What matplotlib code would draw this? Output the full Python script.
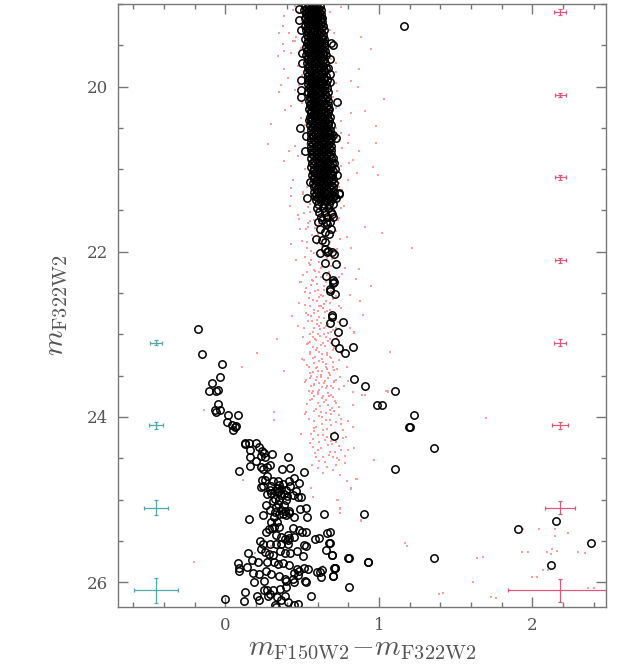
import matplotlib
matplotlib.use("Agg")
import matplotlib.pyplot as plt
from matplotlib.ticker import MultipleLocator

plt.rcParams['mathtext.fontset'] = 'cm'

# upper main sequence ridge: one row of colours per magnitude
ridge_mag = [19.02, 19.07, 19.12, 19.17, 19.22, 19.27, 19.32, 19.37, 19.42, 19.47,
             19.52, 19.57, 19.62, 19.67, 19.72, 19.77, 19.82, 19.87, 19.92, 19.97,
             20.02, 20.07, 20.12, 20.17, 20.22, 20.27, 20.32, 20.37, 20.42, 20.47,
             20.52, 20.57, 20.62, 20.67, 20.72, 20.77, 20.82, 20.87, 20.92, 20.97,
             21.02, 21.07, 21.12, 21.17, 21.22, 21.27, 21.32, 21.37, 21.42, 21.47,
             21.52, 21.58, 21.64]
ridge_cols = [
    [0.52, 0.545, 0.57, 0.59, 0.615], [0.515, 0.54, 0.565, 0.595, 0.62],
    [0.525, 0.55, 0.575, 0.60, 0.625], [0.52, 0.545, 0.57, 0.595, 0.62, 0.63],
    [0.53, 0.555, 0.58, 0.605, 0.63], [0.52, 0.545, 0.575, 0.60, 0.635],
    [0.525, 0.55, 0.58, 0.61, 0.64], [0.53, 0.56, 0.585, 0.61, 0.635],
    [0.52, 0.55, 0.575, 0.60, 0.63, 0.645], [0.53, 0.555, 0.58, 0.61, 0.64],
    [0.525, 0.55, 0.585, 0.615, 0.645], [0.53, 0.56, 0.59, 0.62, 0.65],
    [0.525, 0.555, 0.58, 0.605, 0.635, 0.655], [0.535, 0.56, 0.59, 0.62, 0.645],
    [0.53, 0.555, 0.585, 0.615, 0.65], [0.535, 0.565, 0.59, 0.625, 0.655],
    [0.53, 0.56, 0.59, 0.62, 0.645], [0.54, 0.565, 0.595, 0.625, 0.655],
    [0.535, 0.56, 0.59, 0.615, 0.645, 0.66], [0.54, 0.57, 0.60, 0.63, 0.655],
    [0.545, 0.57, 0.595, 0.625, 0.66], [0.54, 0.565, 0.60, 0.63, 0.665],
    [0.55, 0.575, 0.60, 0.635, 0.66], [0.545, 0.57, 0.605, 0.63, 0.665],
    [0.55, 0.58, 0.61, 0.64, 0.67], [0.545, 0.575, 0.605, 0.635, 0.665, 0.675],
    [0.555, 0.585, 0.61, 0.64, 0.67], [0.55, 0.58, 0.615, 0.645, 0.68],
    [0.555, 0.585, 0.615, 0.65, 0.675], [0.55, 0.58, 0.61, 0.64, 0.67, 0.685],
    [0.56, 0.59, 0.62, 0.65, 0.68], [0.555, 0.585, 0.615, 0.645, 0.675, 0.69],
    [0.56, 0.59, 0.625, 0.655, 0.685], [0.555, 0.585, 0.62, 0.65, 0.68],
    [0.56, 0.595, 0.625, 0.66, 0.69], [0.555, 0.59, 0.62, 0.65, 0.685],
    [0.565, 0.595, 0.63, 0.66, 0.69], [0.56, 0.59, 0.625, 0.655, 0.685, 0.70],
    [0.565, 0.60, 0.63, 0.665, 0.695], [0.56, 0.595, 0.625, 0.66, 0.69],
    [0.57, 0.60, 0.635, 0.665, 0.70], [0.565, 0.595, 0.63, 0.66, 0.695],
    [0.575, 0.605, 0.64, 0.67, 0.70], [0.57, 0.60, 0.635, 0.665, 0.705],
    [0.58, 0.61, 0.645, 0.675, 0.70], [0.575, 0.605, 0.64, 0.67, 0.71],
    [0.585, 0.615, 0.645, 0.68, 0.705], [0.59, 0.625, 0.655, 0.69],
    [0.60, 0.64, 0.675, 0.70], [0.595, 0.635, 0.67], [0.61, 0.65, 0.69],
    [0.62, 0.66, 0.70], [0.605, 0.655, 0.68]]

# in-between rows of the ridge (it is packed solid in the picture)
ridge_mag_b = [19.045, 19.095, 19.145, 19.195, 19.245, 19.295, 19.345, 19.395, 19.445,
               19.495, 19.545, 19.595, 19.645, 19.695, 19.745, 19.795, 19.845, 19.895,
               19.945, 19.995, 20.045, 20.095, 20.145, 20.195, 20.245, 20.295, 20.345,
               20.395, 20.445, 20.495, 20.545, 20.595, 20.645, 20.695, 20.745, 20.795,
               20.845, 20.895, 20.945, 20.995, 21.045, 21.095, 21.145, 21.195, 21.245,
               21.295, 21.345]
ridge_cols_b = [
    [0.53, 0.555, 0.58, 0.605], [0.53, 0.555, 0.585, 0.61], [0.535, 0.56, 0.585, 0.61],
    [0.535, 0.56, 0.585, 0.615], [0.54, 0.565, 0.59, 0.615], [0.535, 0.565, 0.595, 0.62],
    [0.54, 0.57, 0.595, 0.625], [0.54, 0.565, 0.59, 0.62], [0.54, 0.565, 0.59, 0.615],
    [0.545, 0.57, 0.595, 0.625], [0.54, 0.57, 0.60, 0.63], [0.545, 0.575, 0.605, 0.635],
    [0.54, 0.57, 0.595, 0.625], [0.545, 0.575, 0.605, 0.635], [0.545, 0.57, 0.60, 0.635],
    [0.55, 0.58, 0.61, 0.64], [0.545, 0.575, 0.605, 0.635], [0.55, 0.58, 0.61, 0.64],
    [0.55, 0.575, 0.605, 0.63], [0.555, 0.585, 0.615, 0.645], [0.56, 0.585, 0.61, 0.64],
    [0.555, 0.58, 0.615, 0.65], [0.56, 0.59, 0.62, 0.65], [0.56, 0.585, 0.615, 0.65],
    [0.565, 0.595, 0.625, 0.655], [0.56, 0.59, 0.62, 0.65], [0.57, 0.595, 0.625, 0.655],
    [0.565, 0.60, 0.63, 0.665], [0.57, 0.60, 0.635, 0.665], [0.565, 0.595, 0.625, 0.655],
    [0.575, 0.605, 0.635, 0.665], [0.57, 0.60, 0.63, 0.66], [0.575, 0.61, 0.64, 0.67],
    [0.57, 0.605, 0.635, 0.665], [0.58, 0.61, 0.645, 0.675], [0.575, 0.605, 0.635, 0.67],
    [0.58, 0.61, 0.645, 0.675], [0.575, 0.61, 0.64, 0.67], [0.58, 0.615, 0.65, 0.68],
    [0.575, 0.61, 0.645, 0.675], [0.585, 0.62, 0.65, 0.685], [0.58, 0.615, 0.645, 0.68],
    [0.59, 0.62, 0.655, 0.685], [0.585, 0.62, 0.65, 0.69], [0.595, 0.63, 0.66, 0.69],
    [0.59, 0.625, 0.655, 0.69], [0.60, 0.63, 0.665, 0.695]]

# stragglers around the ridge
ridge_out = [(0.48, 19.06), (0.70, 19.50), (0.50, 19.72), (0.49, 19.92), (0.49, 20.12),
             (0.73, 20.19), (0.487, 20.50), (0.68, 19.67), (0.743, 21.29), (0.73, 21.07),
             (0.55, 21.15), (1.166, 19.27), (0.69, 19.47), (0.665, 19.78), (0.68, 19.85),
             (0.68, 19.94), (0.70, 20.58), (0.72, 20.62), (0.71, 20.92), (0.715, 21.00),
             (0.52, 20.78), (0.53, 21.35), (0.72, 21.35), (0.478, 19.19), (0.49, 19.31),
             (0.50, 19.59), (0.49, 20.04), (0.547, 20.40), (0.528, 20.60), (0.74, 21.30)]

# lower part of the upper sequence
ms_tail = [(0.695, 21.54), (0.614, 21.73), (0.65, 21.76), (0.672, 21.79), (0.689, 21.72),
           (0.593, 21.85), (0.63, 21.86), (0.647, 21.88), (0.65, 21.97), (0.67, 21.99),
           (0.695, 22.00), (0.614, 22.01), (0.66, 22.00), (0.705, 22.03), (0.647, 22.14),
           (0.72, 22.15), (0.656, 22.29), (0.704, 22.34), (0.706, 22.36), (0.703, 22.38),
           (0.682, 22.45), (0.682, 22.48), (0.714, 22.51), (0.697, 22.76), (0.695, 22.79),
           (0.684, 22.86), (0.767, 22.85), (0.734, 22.97), (0.717, 23.09), (0.74, 23.16),
           (0.83, 23.15), (0.78, 23.22), (0.84, 23.54), (0.91, 23.63), (1.107, 23.68),
           (0.986, 23.86), (1.018, 23.86), (1.227, 23.98), (1.198, 24.12), (1.203, 24.12),
           (0.708, 24.23), (1.36, 24.38), (1.103, 24.63), (0.63, 21.62), (0.66, 21.66)]

# blue sequence turning down to the faint clump
blue_seq = [(-0.178, 22.93), (-0.154, 23.24), (-0.02, 23.36), (-0.037, 23.51), (-0.089, 23.59),
            (-0.106, 23.68), (-0.059, 23.68), (-0.046, 23.67), (-0.046, 23.84), (-0.07, 23.91),
            (-0.059, 23.94), (-0.033, 23.92), (0.017, 23.97), (0.085, 23.97), (0.013, 24.06),
            (0.044, 24.10), (0.061, 24.12), (0.052, 24.16), (0.07, 24.11), (0.126, 24.33)]

# faint clump
faint = [(0.126, 24.32), (0.156, 24.32), (0.202, 24.31), (0.221, 24.36), (0.160, 24.40),
         (0.236, 24.41), (0.249, 24.44), (0.230, 24.47), (0.258, 24.48), (0.160, 24.48),
         (0.202, 24.53), (0.306, 24.45), (0.408, 24.48), (0.234, 24.60), (0.273, 24.61),
         (0.243, 24.63), (0.289, 24.58), (0.091, 24.65), (0.158, 24.59), (0.367, 24.63),
         (0.423, 24.62), (0.510, 24.66), (0.269, 24.72), (0.239, 24.76), (0.256, 24.76),
         (0.310, 24.78), (0.345, 24.78), (0.352, 24.82), (0.373, 24.81), (0.413, 24.78),
         (0.449, 24.74), (0.419, 24.83), (0.480, 24.80), (0.243, 24.84), (0.230, 24.85),
         (0.289, 24.88), (0.323, 24.89), (0.352, 24.89), (0.395, 24.88), (0.458, 24.89),
         (0.269, 24.93), (0.300, 24.92), (0.345, 24.91), (0.384, 24.93), (0.438, 24.94),
         (0.475, 24.97), (0.493, 24.97), (0.486, 25.11), (0.525, 25.10), (0.321, 24.99),
         (0.352, 25.01), (0.397, 25.00), (0.330, 25.09), (0.363, 25.12), (0.391, 25.14),
         (0.417, 25.16), (0.449, 25.21), (0.265, 25.06), (0.247, 25.19), (0.289, 25.12),
         (0.326, 25.15), (0.319, 25.21), (0.352, 25.17), (0.373, 25.18), (0.395, 25.19),
         (0.417, 25.14), (0.152, 25.23), (0.295, 25.27), (0.334, 25.27), (0.319, 25.33),
         (0.347, 25.33), (0.263, 25.39), (0.282, 25.36), (0.302, 25.34), (0.443, 25.34),
         (0.478, 25.37), (0.534, 25.21), (0.525, 25.39), (0.497, 25.39), (0.330, 25.43),
         (0.360, 25.45), (0.406, 25.43), (0.417, 25.47), (0.386, 25.48), (0.449, 25.45),
         (0.228, 25.50), (0.245, 25.54), (0.291, 25.54), (0.328, 25.54), (0.365, 25.54),
         (0.408, 25.54), (0.410, 25.49), (0.640, 25.17), (0.901, 25.18), (0.586, 25.48),
         (0.608, 25.47), (0.660, 25.40), (0.656, 25.61), (0.677, 25.53), (0.693, 25.67),
         (0.803, 25.71), (0.927, 25.75), (0.234, 25.60), (0.260, 25.63), (0.287, 25.66),
         (0.308, 25.67), (0.354, 25.62), (0.391, 25.65), (0.421, 25.65), (0.467, 25.62),
         (0.512, 25.55), (0.525, 25.56), (0.508, 25.68), (0.150, 25.65), (0.174, 25.73),
         (0.085, 25.77), (0.087, 25.83), (0.089, 25.87), (0.143, 25.82), (0.211, 25.75),
         (0.269, 25.75), (0.317, 25.75), (0.343, 25.78), (0.373, 25.77), (0.413, 25.79),
         (0.445, 25.89), (0.465, 25.84), (0.482, 25.87), (0.510, 25.83), (0.536, 25.84),
         (0.597, 25.88), (0.617, 25.88), (0.630, 25.85), (0.712, 25.83), (0.703, 25.92),
         (0.625, 25.94), (0.805, 26.06), (0.182, 25.89), (0.221, 25.90), (0.265, 25.86),
         (0.297, 25.90), (0.352, 25.92), (0.386, 25.96), (0.395, 25.98), (0.439, 25.96),
         (0.447, 26.00), (0.519, 25.98), (0.528, 26.00), (0.473, 25.91), (0.252, 25.98),
         (0.187, 26.00), (0.274, 26.09), (0.252, 26.10), (0.313, 26.09), (0.356, 26.08),
         (0.128, 26.12), (0.119, 26.23), (-0.004, 26.20), (0.204, 26.17), (0.217, 26.22),
         (0.276, 26.17), (0.334, 26.18), (0.363, 26.21), (0.386, 26.17), (0.449, 26.28),
         (0.471, 26.26), (0.560, 26.17), (0.321, 26.28), (0.330, 26.30), (0.406, 26.24),
         (0.291, 26.14), (0.395, 26.06), (0.678, 25.39), (0.682, 25.53), (0.695, 25.67),
         (0.710, 25.83), (0.717, 25.83), (0.700, 25.92), (0.80, 25.71), (0.927, 25.75),
         (1.36, 25.71), (1.909, 25.35), (2.152, 25.26), (2.38, 25.53), (2.12, 25.79),
         (0.335, 24.86), (0.365, 24.95), (0.31, 25.02), (0.34, 25.05), (0.38, 25.07),
         (0.30, 24.84), (0.36, 24.87), (0.40, 24.96)]

# red field dots
red_upper = [(0.384, 19.15), (0.373, 19.27), (0.347, 19.35), (0.417, 19.35), (0.439, 19.45),
             (0.456, 19.45), (0.378, 19.49), (0.384, 19.57), (0.428, 19.59), (0.754, 19.04),
             (0.678, 19.10), (0.71, 19.35), (0.645, 19.38), (0.72, 19.71), (0.873, 19.79),
             (0.818, 19.93), (0.72, 19.96), (0.703, 20.12), (0.72, 20.26), (0.862, 20.00),
             (0.384, 19.79), (0.406, 19.89), (0.45, 20.04), (0.352, 20.06), (0.428, 20.24),
             (0.391, 20.28), (0.276, 20.70), (0.45, 20.72), (0.417, 20.78), (0.808, 20.58),
             (0.754, 20.56), (0.699, 20.60), (0.873, 20.78), (0.797, 20.68), (0.981, 20.68),
             (0.96, 20.97), (0.803, 20.93), (0.829, 20.89), (0.72, 21.01), (0.471, 20.84),
             (0.428, 21.23), (0.439, 21.13), (0.504, 21.27), (0.678, 21.33), (0.743, 21.21),
             (0.797, 21.13), (0.992, 21.07), (0.981, 20.48), (0.818, 20.32), (0.439, 19.07),
             (0.45, 19.02), (0.656, 19.17), (0.47, 19.10), (0.50, 19.21), (0.66, 19.25),
             (0.68, 19.31), (0.46, 19.40), (0.67, 19.44), (0.49, 19.53), (0.70, 19.55),
             (0.51, 19.64), (0.69, 19.66), (0.47, 19.75), (0.72, 19.82), (0.50, 19.86),
             (0.70, 19.90), (0.48, 19.98), (0.73, 20.05), (0.52, 20.10), (0.69, 20.15),
             (0.50, 20.20), (0.74, 20.22), (0.53, 20.30), (0.71, 20.35), (0.49, 20.38),
             (0.75, 20.42), (0.52, 20.46), (0.72, 20.50), (0.51, 20.55), (0.74, 20.65),
             (0.53, 20.70), (0.76, 20.74), (0.50, 20.82), (0.73, 20.85), (0.54, 20.90),
             (0.75, 20.96), (0.52, 21.00), (0.72, 21.05), (0.55, 21.10), (0.74, 21.17),
             (0.53, 21.22), (0.76, 21.25), (0.56, 21.30), (0.73, 21.38), (0.55, 21.42),
             (0.77, 21.45), (0.34, 19.63), (0.30, 20.45), (0.38, 20.90), (0.91, 20.30),
             (0.95, 19.55), (1.03, 20.15), (0.86, 21.05), (0.42, 21.45), (0.88, 19.40),
             (0.36, 19.98)]

red_band = [(0.428, 21.33), (0.504, 21.30), (0.471, 21.55), (0.424, 21.90), (0.487, 21.73),
            (0.499, 21.87), (0.536, 21.65), (0.558, 21.99), (0.543, 22.14), (0.580, 22.22),
            (0.591, 22.30), (0.493, 22.37), (0.558, 22.40), (0.602, 22.46), (0.623, 22.52),
            (0.569, 22.58), (0.656, 22.60), (0.608, 22.66), (0.634, 22.68), (0.580, 22.74),
            (0.660, 22.72), (0.56, 22.78), (0.595, 22.82), (0.625, 22.86), (0.578, 22.92),
            (0.645, 22.92), (0.606, 22.99), (0.656, 23.03), (0.591, 23.07), (0.634, 23.11),
            (0.688, 23.11), (0.573, 23.15), (0.612, 23.21), (0.66, 23.25), (0.586, 23.27),
            (0.634, 23.33), (0.688, 23.29), (0.597, 23.39), (0.656, 23.39), (0.569, 23.45),
            (0.623, 23.49), (0.677, 23.47), (0.591, 23.55), (0.645, 23.59), (0.558, 23.63),
            (0.612, 23.67), (0.667, 23.71), (0.699, 23.65), (0.58, 23.75), (0.630, 23.77),
            (0.753, 21.47), (0.742, 21.59), (0.792, 21.82), (0.912, 21.70), (1.02, 21.77),
            (1.214, 21.95), (0.873, 22.21), (0.851, 22.33), (0.949, 22.41), (0.877, 22.59),
            (0.894, 22.76), (0.814, 22.92), (0.84, 22.98), (0.434, 22.78), (0.336, 23.05),
            (0.206, 23.22), (0.108, 23.39), (0.38, 23.44), (1.073, 23.21), (1.057, 23.70),
            (0.797, 23.56), (0.76, 22.27), (0.721, 22.42), (0.742, 22.66), (0.753, 23.23),
            (0.71, 23.43), (0.721, 23.55), (0.489, 22.36), (0.521, 22.49), (0.526, 22.74),
            (0.504, 23.03), (0.536, 23.11), (0.515, 23.31), (0.547, 23.39), (0.552, 23.53),
            (0.565, 23.71), (0.528, 23.55), (0.569, 23.69), (0.612, 23.59), (0.656, 23.65),
            (0.71, 23.57), (0.634, 23.75), (0.688, 23.73), (0.601, 23.83), (0.667, 23.85),
            (0.721, 23.83), (0.623, 23.94), (0.688, 23.96), (0.656, 24.04), (0.721, 24.06),
            (0.591, 24.12), (0.634, 24.16), (0.764, 24.16), (0.688, 24.20), (0.786, 24.24),
            (0.612, 24.30), (0.667, 24.34), (0.721, 24.30), (0.797, 24.40), (0.699, 24.48),
            (0.742, 24.52), (0.634, 24.48), (0.569, 24.36), (0.829, 24.12), (0.558, 24.20),
            (0.601, 24.62), (0.55, 21.52), (0.63, 21.56), (0.70, 21.60), (0.58, 21.62),
            (0.66, 21.68), (0.54, 21.70), (0.72, 21.75), (0.60, 21.78), (0.57, 21.84),
            (0.68, 21.88), (0.63, 21.93), (0.53, 21.96), (0.71, 22.00), (0.60, 22.04),
            (0.66, 22.08), (0.56, 22.10), (0.69, 22.17), (0.62, 22.20), (0.53, 22.25),
            (0.66, 22.28), (0.71, 22.33), (0.57, 22.35), (0.64, 22.42), (0.69, 22.47),
            (0.55, 22.50), (0.61, 22.55), (0.70, 22.57), (0.64, 22.63), (0.55, 22.66),
            (0.68, 22.70), (0.60, 22.72), (0.72, 22.78), (0.64, 22.80), (0.54, 22.84),
            (0.67, 22.88), (0.61, 22.90), (0.70, 22.95), (0.57, 22.97), (0.64, 23.00),
            (0.68, 23.06), (0.55, 23.09), (0.62, 23.13), (0.71, 23.17), (0.59, 23.19),
            (0.66, 23.23), (0.55, 23.24), (0.63, 23.30), (0.70, 23.33), (0.58, 23.35),
            (0.66, 23.42), (0.60, 23.44), (0.73, 23.42), (0.56, 23.50), (0.67, 23.53),
            (0.62, 23.52), (0.71, 23.58), (0.58, 23.61), (0.66, 23.63), (0.60, 23.70),
            (0.70, 23.76), (0.55, 23.79), (0.64, 23.82), (0.74, 23.88), (0.59, 23.90),
            (0.68, 23.92), (0.63, 24.00), (0.75, 24.02), (0.58, 24.05), (0.69, 24.10),
            (0.66, 24.24), (0.74, 24.35), (0.60, 24.40), (0.68, 24.42), (0.72, 24.58),
            (0.65, 24.55), (0.78, 24.47), (0.57, 24.27), (0.80, 24.05), (0.52, 23.96),
            (0.77, 23.62), (0.50, 23.30), (0.48, 22.62), (0.78, 22.20), (0.76, 22.96),
            (0.79, 23.40)]

red_band_more = [(0.512, 21.53), (0.587, 21.55), (0.671, 21.58), (0.734, 21.61), (0.548, 21.63),
                 (0.612, 21.66), (0.689, 21.69), (0.523, 21.72), (0.641, 21.74), (0.706, 21.77),
                 (0.563, 21.80), (0.619, 21.83), (0.748, 21.85), (0.531, 21.88), (0.598, 21.91),
                 (0.662, 21.94), (0.727, 21.97), (0.574, 22.01), (0.638, 22.03), (0.517, 22.06),
                 (0.693, 22.09), (0.607, 22.12), (0.741, 22.13), (0.552, 22.16), (0.629, 22.18),
                 (0.584, 22.23), (0.676, 22.24), (0.508, 22.28), (0.621, 22.31), (0.737, 22.31),
                 (0.566, 22.34), (0.652, 22.37), (0.598, 22.39), (0.703, 22.40), (0.527, 22.44),
                 (0.582, 22.47), (0.668, 22.49), (0.633, 22.53), (0.718, 22.54), (0.542, 22.56),
                 (0.597, 22.59), (0.681, 22.62), (0.519, 22.64), (0.623, 22.66), (0.751, 22.68),
                 (0.574, 22.70), (0.647, 22.73), (0.706, 22.75), (0.538, 22.77), (0.612, 22.79),
                 (0.684, 22.82), (0.566, 22.84), (0.731, 22.85), (0.594, 22.88), (0.652, 22.90),
                 (0.515, 22.92), (0.619, 22.94), (0.688, 22.97), (0.552, 23.00), (0.613, 23.02),
                 (0.729, 23.04), (0.583, 23.05), (0.665, 23.08), (0.529, 23.12), (0.647, 23.14),
                 (0.596, 23.17), (0.698, 23.19), (0.548, 23.21), (0.627, 23.24), (0.679, 23.27),
                 (0.568, 23.29), (0.741, 23.31), (0.608, 23.32), (0.657, 23.36), (0.533, 23.37),
                 (0.589, 23.41), (0.702, 23.40), (0.628, 23.44), (0.553, 23.47), (0.684, 23.49),
                 (0.599, 23.51), (0.748, 23.52), (0.646, 23.56), (0.521, 23.58), (0.576, 23.60),
                 (0.688, 23.62), (0.627, 23.64), (0.739, 23.66), (0.547, 23.68), (0.604, 23.72),
                 (0.676, 23.74), (0.567, 23.78), (0.652, 23.80), (0.712, 23.81), (0.531, 23.84),
                 (0.619, 23.87), (0.693, 23.89), (0.578, 23.93), (0.654, 23.95), (0.737, 23.97),
                 (0.609, 23.99), (0.545, 24.02), (0.683, 24.04), (0.627, 24.08), (0.752, 24.09),
                 (0.574, 24.13), (0.661, 24.14), (0.716, 24.18), (0.603, 24.22), (0.768, 24.26),
                 (0.646, 24.28), (0.548, 24.31), (0.697, 24.33), (0.622, 24.37), (0.756, 24.40),
                 (0.584, 24.44), (0.673, 24.46), (0.729, 24.50), (0.611, 24.53), (0.781, 24.56),
                 (0.659, 24.60), (0.703, 24.64), (0.566, 24.58), (0.636, 24.68), (0.745, 24.70),
                 (0.687, 24.29), (0.592, 24.48), (0.713, 24.42), (0.636, 24.22), (0.58, 24.17),
                 (0.705, 23.93), (0.568, 23.03), (0.668, 22.98), (0.723, 22.92), (0.641, 22.46),
                 (0.608, 22.25), (0.648, 21.99), (0.582, 21.71), (0.705, 21.52), (0.62, 21.49),
                 (0.54, 21.46), (0.69, 21.44), (0.48, 21.60), (0.46, 22.10), (0.47, 22.90),
                 (0.81, 22.52), (0.82, 21.95), (0.83, 23.70), (0.49, 24.20), (0.84, 24.38)]

red_faint = [(0.84, 22.97), (1.07, 23.21), (1.057, 23.69), (0.91, 23.73), (1.696, 24.01),
             (0.966, 24.52), (0.85, 24.75), (0.82, 24.87), (0.736, 25.01), (0.745, 25.11),
             (0.745, 25.16), (0.884, 25.26), (1.173, 25.52), (1.18, 25.56), (1.64, 25.71),
             (1.61, 26.00), (1.394, 26.14), (1.73, 26.18), (1.94, 25.35), (2.04, 25.35),
             (2.145, 25.35), (2.15, 25.44), (2.23, 25.41), (1.93, 25.64), (2.095, 25.63),
             (2.12, 25.66), (2.30, 25.64), (2.07, 25.85), (1.995, 25.94), (2.36, 26.07),
             (-0.137, 23.91), (0.315, 23.94), (0.315, 24.04), (0.525, 23.94), (0.113, 24.76),
             (-0.202, 25.76), (0.558, 24.86), (0.57, 24.97), (0.73, 25.00), (0.745, 25.10),
             (0.79, 24.78), (0.82, 24.86), (0.86, 24.75), (0.884, 25.25), (0.297, 25.56),
             (0.193, 25.65), (0.634, 25.81), (1.047, 23.69), (0.834, 23.85), (0.89, 23.73),
             (1.42, 26.13), (1.76, 26.19), (1.676, 25.70), (1.97, 25.64), (2.13, 25.60),
             (2.16, 25.62), (2.03, 25.94), (2.10, 25.85), (2.34, 25.65), (2.40, 26.07)]

# photometric error bars
err_blue_col = -0.455
err_blue_mag = [23.1, 24.1, 25.1, 26.1]
err_blue_dx = [0.039, 0.046, 0.078, 0.143]
err_blue_dy = [0.032, 0.04, 0.09, 0.15]
err_red_col = 2.18
err_red_mag = [19.1, 20.1, 21.1, 22.1, 23.1, 24.1, 25.1, 26.1]
err_red_dx = [0.04, 0.036, 0.036, 0.036, 0.038, 0.05, 0.10, 0.337]
err_red_dy = [0.034, 0.028, 0.028, 0.03, 0.04, 0.042, 0.08, 0.137]

ridge = [(c, m) for m, row in zip(ridge_mag, ridge_cols) for c in row]
ridge += [(c, m) for m, row in zip(ridge_mag_b, ridge_cols_b) for c in row]
black = ridge + ridge_out + ms_tail + blue_seq + faint
red = red_upper + red_band + red_band_more + red_faint

fig = plt.figure(figsize=(6.21, 6.67), dpi=100)
ax = fig.add_axes([0.190, 0.090, 0.786, 0.904])

ax.plot([p[0] for p in red], [p[1] for p in red], 's', color='#ff9c9c',
        ms=1.8, mew=0, zorder=1)
ax.plot([p[0] for p in black], [p[1] for p in black], 'o', mfc='none', mec='black',
        ms=5.3, mew=1.1, zorder=2)

ax.errorbar([err_blue_col] * len(err_blue_mag), err_blue_mag, xerr=err_blue_dx,
            yerr=err_blue_dy, fmt='none', ecolor='#4faaac', elinewidth=0.9,
            capsize=1.5, capthick=0.9, zorder=3)
ax.errorbar([err_red_col] * len(err_red_mag), err_red_mag, xerr=err_red_dx,
            yerr=err_red_dy, fmt='none', ecolor='#e0587a', elinewidth=0.9,
            capsize=1.5, capthick=0.9, zorder=3)

ax.set_xlim(-0.7, 2.48)
ax.set_ylim(26.3, 19.0)

ax.xaxis.set_major_locator(MultipleLocator(1))
ax.xaxis.set_minor_locator(MultipleLocator(0.2))
ax.yaxis.set_major_locator(MultipleLocator(2))
ax.yaxis.set_minor_locator(MultipleLocator(0.5))
ax.tick_params(which='both', direction='in', top=True, right=True,
               color='#777777', width=1.0, labelcolor='#555555', labelsize=12)
ax.tick_params(which='major', length=7.5, pad=7)
ax.tick_params(which='minor', length=3.8)
for lab in ax.get_xticklabels() + ax.get_yticklabels():
    lab.set_family('DejaVu Serif')
for sp in ax.spines.values():
    sp.set_color('#777777')
    sp.set_linewidth(1.0)

ax.set_xlabel(r'$m_{\rm F150W2}\!-\!m_{\rm F322W2}$', fontsize=21, color='#555555', labelpad=0)
ax.set_ylabel(r'$m_{\rm F322W2}$', fontsize=21, color='#555555', labelpad=12)

fig.savefig('out.png', dpi=100)
